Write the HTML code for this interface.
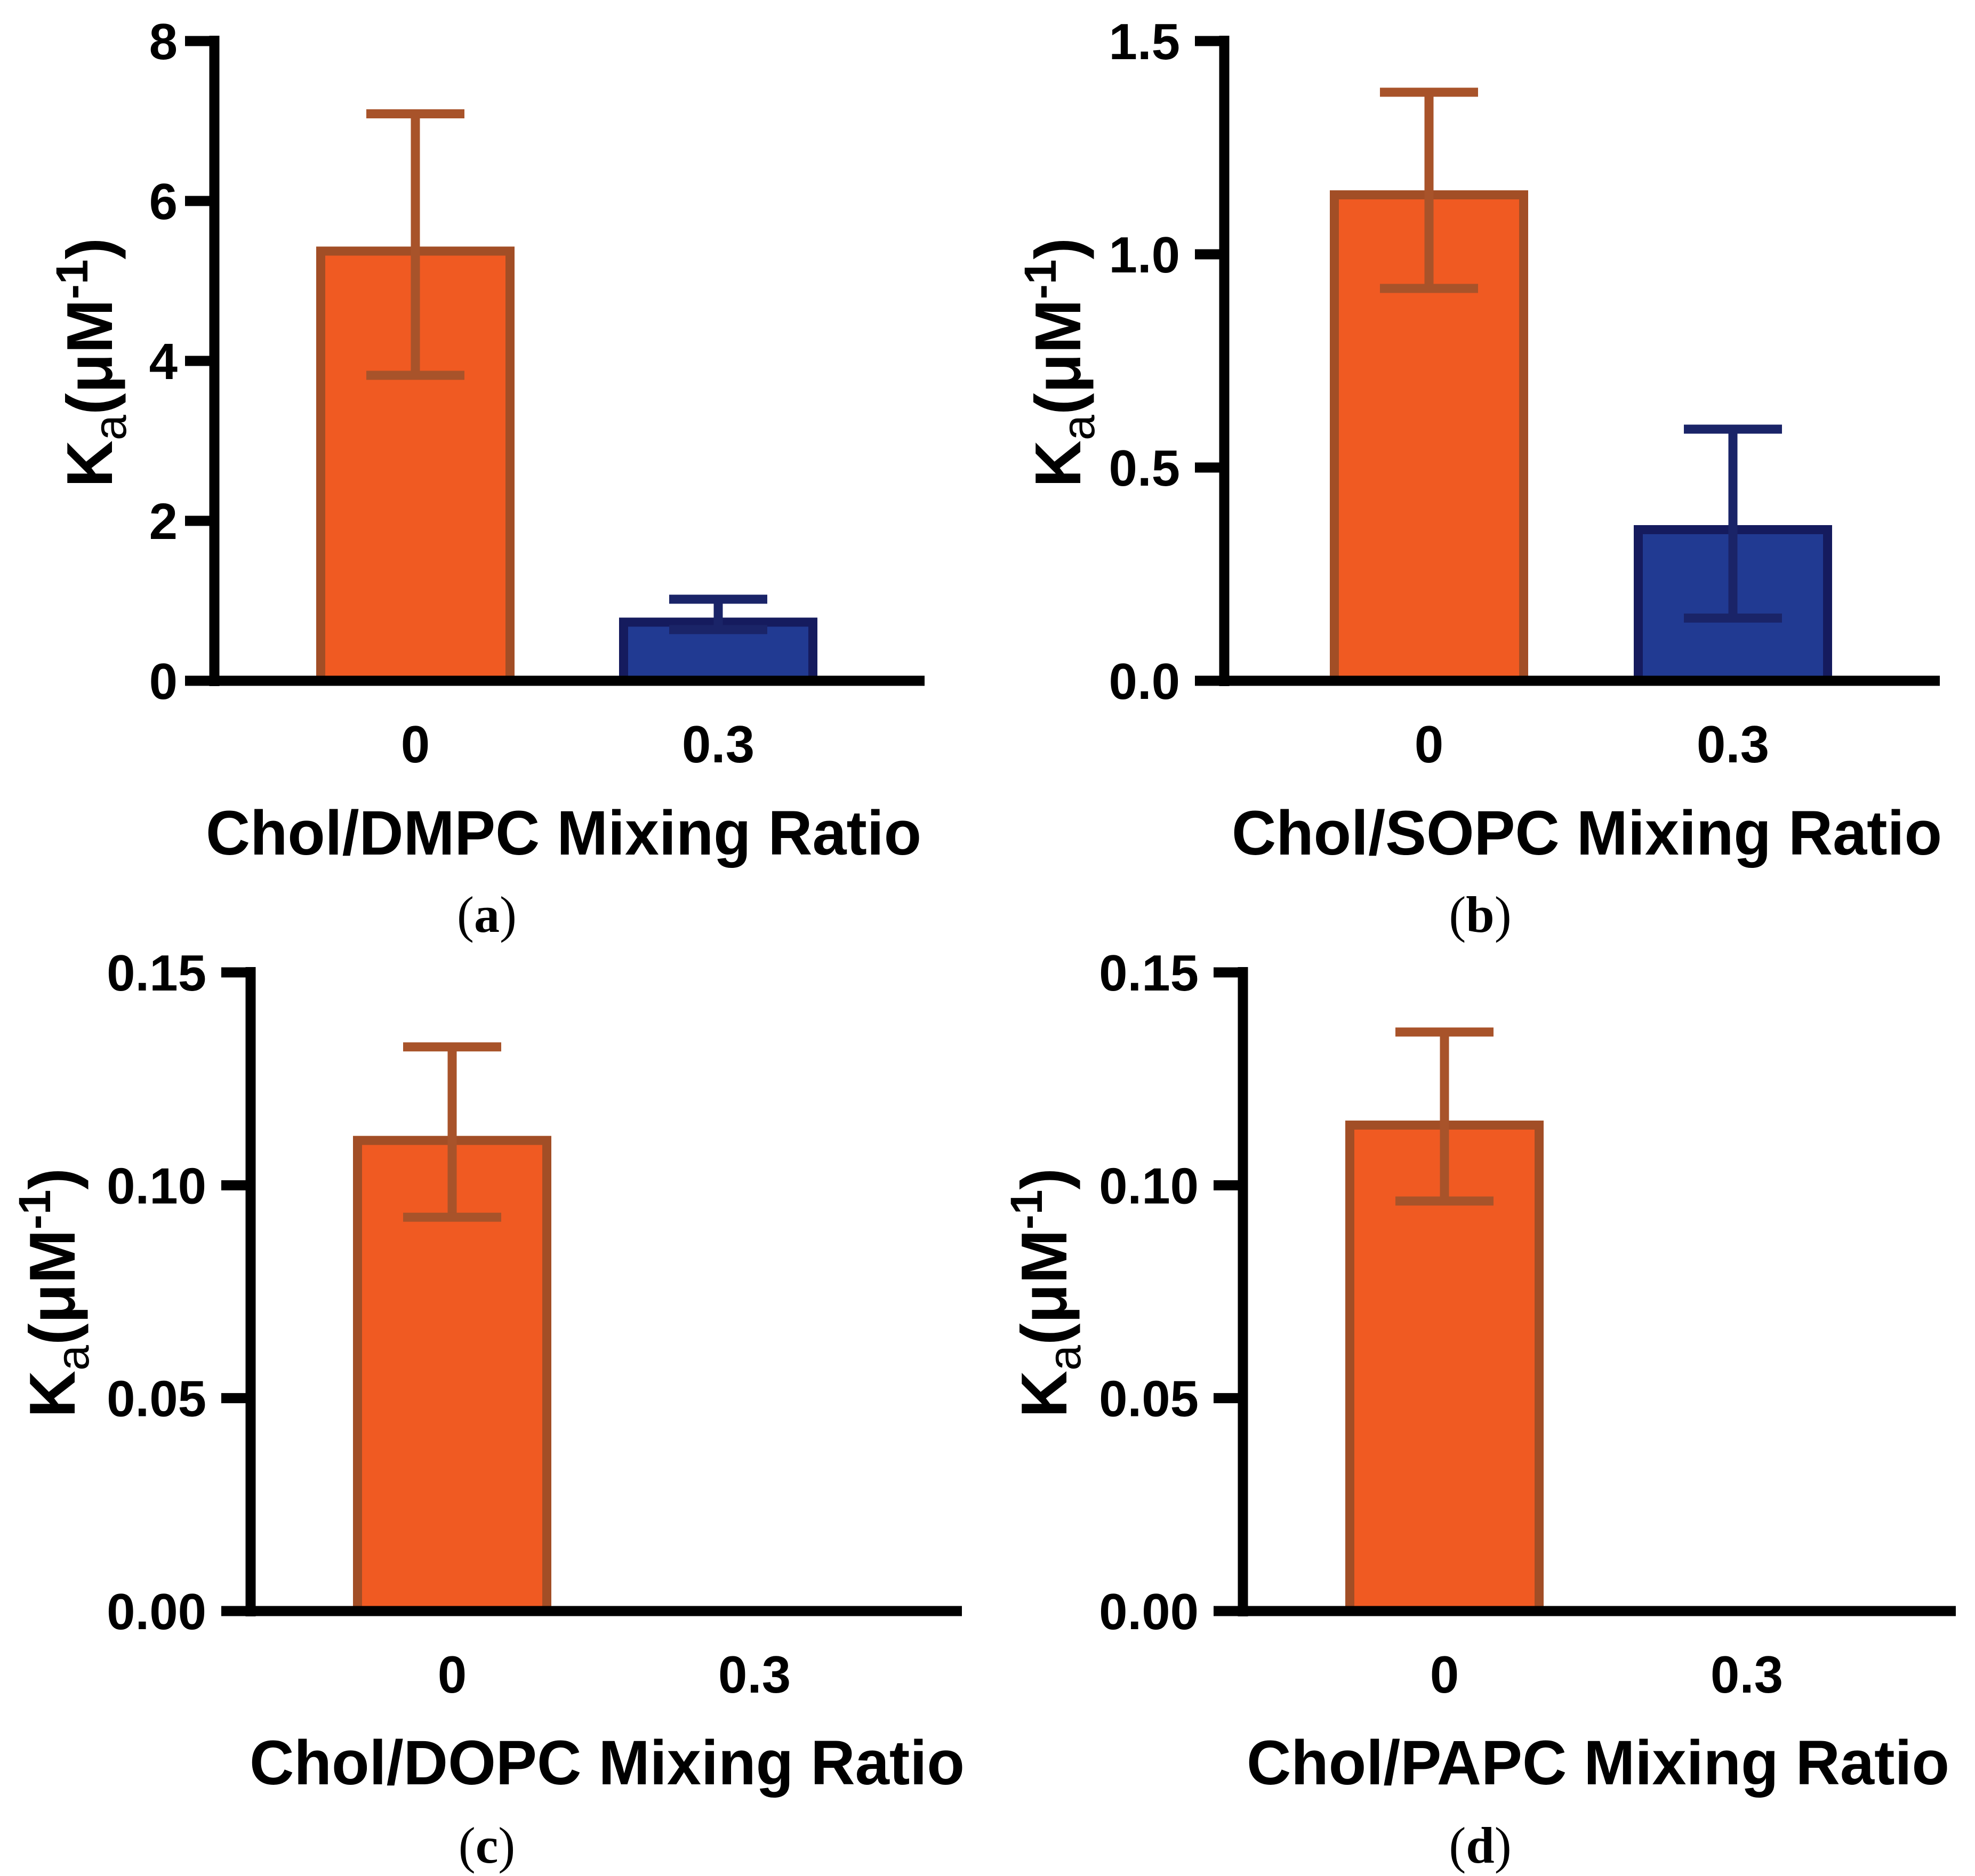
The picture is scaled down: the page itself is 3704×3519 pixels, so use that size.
<!DOCTYPE html>
<html><head><meta charset="utf-8"><style>
html,body{margin:0;padding:0;background:#fff;}
svg{display:block;}
text{font-family:"Liberation Sans",sans-serif;font-weight:bold;fill:#000;}
.cap{font-family:"Liberation Serif",serif;font-weight:normal;}
</style></head><body>
<svg id="fig" width="3704" height="3519" viewBox="0 0 3704 3519" xmlns="http://www.w3.org/2000/svg"></svg>
<script>
// ---- data ----
const categories = ["0", "0.3"];
const panelLetters = ["a", "b", "c", "d"];
const lipids = ["DMPC", "SOPC", "DOPC", "PAPC"];
const valuesA = [5.43, 0.79];
const errHiA = [7.09, 1.02];
const errLoA = [3.82, 0.64];
const valuesB = [1.15, 0.365];
const errHiB = [1.38, 0.59];
const errLoB = [0.92, 0.147];
const valuesC = [0.1116, null];
const errHiC = [0.1325, null];
const errLoC = [0.0925, null];
const valuesD = [0.1152, null];
const errHiD = [0.136, null];
const errLoD = [0.0963, null];
const ticksA = [0, 2, 4, 6, 8];
const ticksB = [0, 0.5, 1.0, 1.5];
const ticksC = [0, 0.05, 0.10, 0.15];
const ticksD = [0, 0.05, 0.10, 0.15];
const tickLabelsA = ["0", "2", "4", "6", "8"];
const tickLabelsB = ["0.0", "0.5", "1.0", "1.5"];
const tickLabelsC = ["0.00", "0.05", "0.10", "0.15"];
const tickLabelsD = ["0.00", "0.05", "0.10", "0.15"];

const NS = "http://www.w3.org/2000/svg";
const svg = document.getElementById("fig");
function mk(tag, attrs, parent) {
  const e = document.createElementNS(NS, tag);
  for (const k in attrs) e.setAttribute(k, attrs[k]);
  (parent || svg).appendChild(e);
  return e;
}

const layout = [
  {ax:402, top:77, zero:1277, xend:1734, c0:779, c1:1347, ymax:8, tickGap:14, ytx:210, ycy:680, ycap:913, titleL:386, titleR:1728, titleY:1603, tickY:1430, capY:1748, values:valuesA, hi:errHiA, lo:errLoA, ticks:ticksA, tl:tickLabelsA},
  {ax:2296, top:77, zero:1277, xend:3638, c0:2680, c1:3250, ymax:1.5, tickGap:28, ytx:2026, ycy:680, ycap:2776, titleL:2310, titleR:3642, titleY:1603, tickY:1430, capY:1748, values:valuesB, hi:errHiB, lo:errLoB, ticks:ticksB, tl:tickLabelsB},
  {ax:470, top:1824, zero:3022, xend:1804, c0:848, c1:1415, ymax:0.15, tickGap:28, ytx:140, ycy:2425, ycap:913, titleL:468, titleR:1809, titleY:3347, tickY:3175, capY:3494, values:valuesC, hi:errHiC, lo:errLoC, ticks:ticksC, tl:tickLabelsC},
  {ax:2331, top:1824, zero:3022, xend:3668, c0:2709, c1:3276, ymax:0.15, tickGap:28, ytx:2000, ycy:2425, ycap:2776, titleL:2338, titleR:3656, titleY:3347, tickY:3175, capY:3494, values:valuesD, hi:errHiD, lo:errLoD, ticks:ticksD, tl:tickLabelsD}
];
const fills = ["#F05A22", "#213A92"];
const strokes = ["#A24E26", "#151B5E"];
const errCol = ["#A8532A", "#1A2468"];

layout.forEach((p, pi) => {
  const g = mk("g", {});
  
  
  const y = v => p.zero - (v / p.ymax) * (p.zero - p.top);
  const xc = [p.c0, p.c1];
  const bw = 372, sw = 17;
  p.values.forEach((v, i) => {
    if (v === null) return;
    const r = mk("rect", {x: xc[i] - bw/2 + sw/2, y: y(v) + sw/2, width: bw - sw, height: p.zero - y(v) - sw/2, fill: fills[i], stroke: strokes[i], "stroke-width": sw}, g);
    
    
  });
  p.values.forEach((v, i) => {
    if (v === null) return;
    const eg = mk("g", {stroke: errCol[i], "stroke-width": sw, fill: "none"}, g);
    
    
    mk("line", {x1: xc[i], x2: xc[i], y1: y(p.hi[i]), y2: y(p.lo[i])}, eg);
    mk("line", {x1: xc[i] - 92, x2: xc[i] + 92, y1: y(p.hi[i]), y2: y(p.hi[i])}, eg);
    mk("line", {x1: xc[i] - 92, x2: xc[i] + 92, y1: y(p.lo[i]), y2: y(p.lo[i])}, eg);
  });
  const ya = mk("line", {x1: p.ax, x2: p.ax, y1: p.top - 10, y2: p.zero + 10, stroke: "#000", "stroke-width": 19}, g);
  
  
  const xa = mk("line", {x1: p.ax - 55, x2: p.xend, y1: p.zero, y2: p.zero, stroke: "#000", "stroke-width": 19}, g);
  
  
  p.ticks.forEach((t, i) => {
    const ty = y(t);
    const tk = mk("line", {x1: p.ax - 55, x2: p.ax, y1: ty, y2: ty, stroke: "#000", "stroke-width": 19}, g);
    
    
    const lb = mk("text", {x: p.ax - 55 - p.tickGap, y: ty + 34, "font-size": 96, "text-anchor": "end"}, g);
    lb.textContent = p.tl[i];
    
    
  });
  categories.forEach((c, i) => {
    const lb = mk("text", {x: xc[i], y: p.tickY, "font-size": 98, "text-anchor": "middle"}, g);
    lb.textContent = c;
    
    
  });
  const xt = mk("text", {x: p.titleL, y: p.titleY, "font-size": 118, textLength: p.titleR - p.titleL, lengthAdjust: "spacingAndGlyphs"}, g);
  xt.textContent = "Chol/" + lipids[pi] + " Mixing Ratio";
  
  
  const yt = mk("text", {transform: "translate(" + p.ytx + "," + p.ycy + ") rotate(-90)", x: 0, y: 0, "font-size": 122, "text-anchor": "middle"}, g);
  
  
  const t1 = mk("tspan", {}, yt); t1.textContent = "K";
  const t2 = mk("tspan", {dy: 26, "font-size": 86, "font-weight": "normal"}, yt); t2.textContent = "a";
  const t3 = mk("tspan", {dy: -26}, yt); t3.textContent = "(μM";
  const t4 = mk("tspan", {dy: -46, "font-size": 84}, yt); t4.textContent = "-1";
  const t5 = mk("tspan", {dy: 46}, yt); t5.textContent = ")";
  const cp = mk("text", {x: p.ycap, y: p.capY, "font-size": 96, "text-anchor": "middle", class: "cap"}, g);
  
  
  const c1 = mk("tspan", {}, cp); c1.textContent = "(";
  const c2 = mk("tspan", {"font-weight": "bold"}, cp); c2.textContent = panelLetters[pi];
  const c3 = mk("tspan", {}, cp); c3.textContent = ")";
});
</script>
</body></html>
